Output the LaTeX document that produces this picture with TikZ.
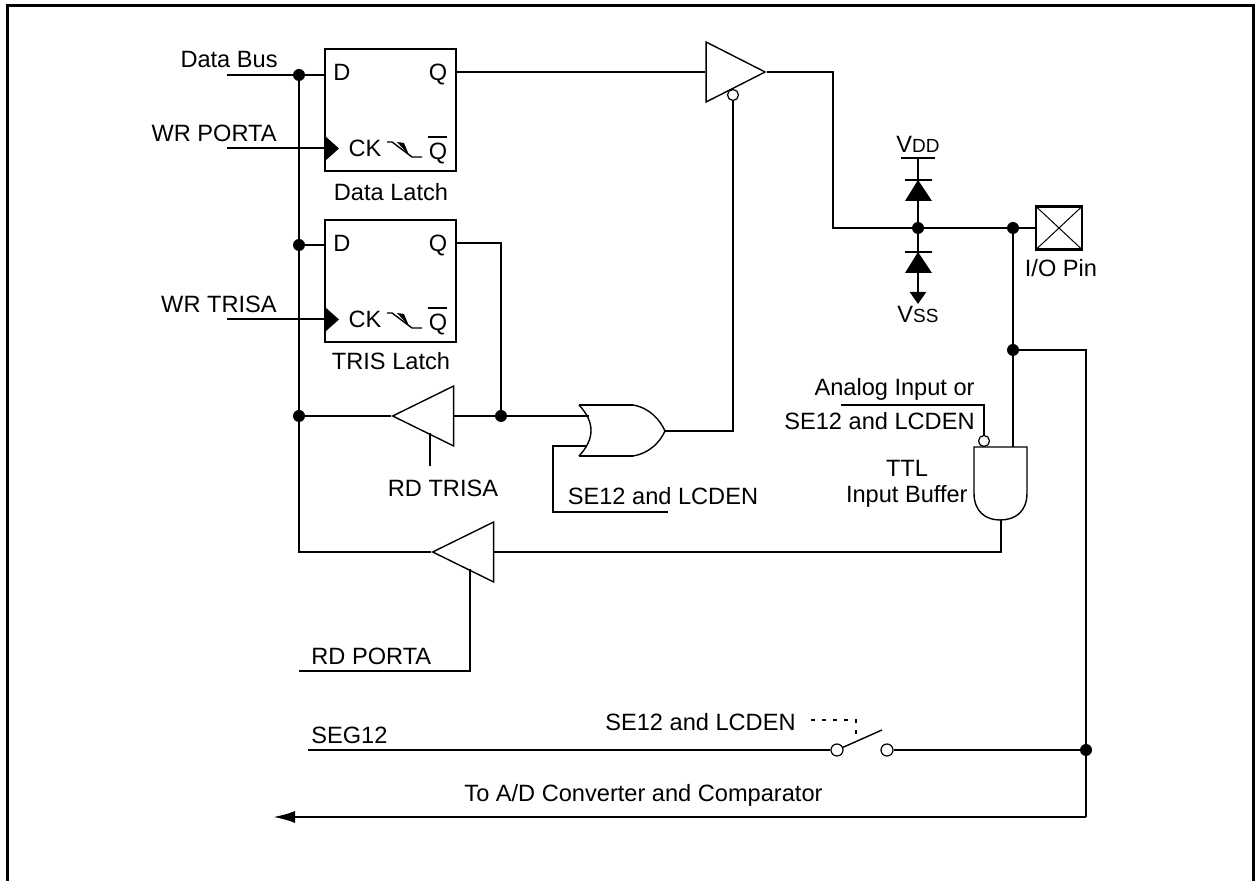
\documentclass[tikz,border=0pt]{standalone}
\usepackage{fontspec}
\setmainfont{Liberation Sans}
\usetikzlibrary{shapes.geometric,arrows.meta}

\begin{document}
\begin{tikzpicture}[x=0.5pt,y=-0.5pt]
    \tikzstyle{wire}=[line width=1.2pt]
    \tikzstyle{thinwire}=[line width=0.7pt]
    \tikzstyle{latch}=[rectangle,draw=black,line width=1.2pt,inner sep=0pt,minimum width=65.5pt,minimum height=61pt]
    \tikzstyle{junct}=[circle,fill=black,inner sep=0pt,minimum size=6pt]
    \tikzstyle{bubble}=[circle,draw=black,fill=white,line width=0.6pt,inner sep=0pt,minimum size=5.5pt]
    \tikzstyle{contact}=[circle,draw=black,fill=white,line width=0.6pt,inner sep=0pt,minimum size=6pt]
    \tikzstyle{buffer}=[isosceles triangle,isosceles triangle stretches,draw=black,line width=0.7pt,inner sep=0pt,minimum width=30pt,minimum height=29.5pt]
    \tikzstyle{label}=[inner sep=0pt,text height=8.4pt,text depth=0pt,font=\fontsize{11.8}{14}\selectfont]

    \useasboundingbox (0,0) rectangle (1255,881);
    \draw[wire] (7.5,881) -- (7.5,5.5) -- (1253.5,5.5) -- (1253.5,881);

    % latches
    \node[latch] (dl) at (390.5,110) {};
    \node[latch] (tl) at (390.5,281) {};
    \node[label] (dlD) at (342,72) {D};
    \node[label] (dlQ) at (438,72) {Q};
    \node[label] (dlCK) at (365,148) {CK};
    \node[label] (dlN) at (438,151) {Q};
    \node[label] (dlname) at (391,192) {Data Latch};
    \node[label] (tlD) at (342,243) {D};
    \node[label] (tlQ) at (438,243) {Q};
    \node[label] (tlCK) at (365,319) {CK};
    \node[label] (tlN) at (438,322) {Q};
    \node[label] (tlname) at (391,361) {TRIS Latch};
    \foreach \y/\n in {0/dl,171/tl}{
        \fill (325,136+\y) -- (339,148.5+\y) -- (325,161+\y) -- cycle;
        \draw[wire] (428,137+\y) -- (447,137+\y);
        \draw[thinwire] (387,142+\y) -- (392,142+\y) -- (412,157+\y) -- (422,157+\y);
        \fill (397,142+\y) -- (409,155+\y) -- (404,143+\y) -- cycle;
    }

    % buffers
    \node[buffer] (bq) at (724.5,72) {};
    \node[buffer,shape border rotate=180,minimum height=30.5pt] (brt) at (435,416) {};
    \node[buffer,shape border rotate=180,minimum height=30.5pt] (brp) at (475,552) {};
    \node[bubble] (bqen) at (733,95) {};

    % gates
    \draw[wire] (579,405) -- (633,405);
    \draw[wire] (579,456) -- (633,456);
    \draw[thinwire] (633,405) .. controls (650,408) and (660,420) .. (665,431) .. controls (660,442) and (650,453) .. (633,456);
    \draw[thinwire] (579,405) .. controls (595,422) and (595,439) .. (579,456);
    \draw[thinwire] (974,447) -- (1027,447) -- (1027,493) .. controls (1027,512) and (1015,520) .. (1000,520) .. controls (986,520) and (974,512) .. (974,493) -- cycle;
    \node[bubble] (anden) at (984,441) {};

    \coordinate (orA) at (589,416);
    \coordinate (orB) at (587,446);
    \coordinate (orO) at (665,431);
    \coordinate (andA) at (1013,447);
    \coordinate (andO) at (1001,520);

    % diodes and pin
    \node[rectangle,draw=black,line width=1.2pt,inner sep=0pt,minimum width=23pt,minimum height=21.5pt,
          path picture={\draw[line width=0.5pt] (path picture bounding box.north west) -- (path picture bounding box.south east)
          (path picture bounding box.north east) -- (path picture bounding box.south west);}] (pin) at (1059,228) {};
    \foreach \y in {180,252}{
        \fill (918,\y) -- (932,\y+21) -- (905,\y+21) -- cycle;
        \draw[wire] (905,\y) -- (932,\y);
    }
    \coordinate (vddbar) at (918,158);
    \coordinate (vssend) at (918,304);
    \draw[wire] (901,158) -- (935,158);
    \node[label] (vdd) at (918,144) {V{\fontsize{9.5}{11}\selectfont DD}};
    \node[label] (vss) at (918,314) {V{\fontsize{9.5}{11}\selectfont SS}};
    \node[label] (pinname) at (1061,268) {I/O Pin};

    % junctions
    \node[junct] (j1) at (299,75) {};
    \node[junct] (j2) at (299,245) {};
    \node[junct] (j3) at (299,416) {};
    \node[junct] (j4) at (501,416) {};
    \node[junct] (j5) at (918,228) {};
    \node[junct] (j6) at (1013,228) {};
    \node[junct] (j7) at (1013,350) {};
    \node[junct] (j8) at (1086,750) {};
    \node[contact] (sa) at (837,750) {};
    \node[contact] (sb) at (887,750) {};

    % free ends
    \coordinate (dbus) at (227,75);
    \coordinate (wrp) at (227,148);
    \coordinate (wrt) at (227,319);
    \coordinate (bend1) at (299,552);
    \coordinate (q1bend) at (833,72);
    \coordinate (q1low) at (833,228);
    \coordinate (q2bend) at (501,243);
    \coordinate (orgo) at (733,431);
    \coordinate (rte) at (430,466);
    \coordinate (rts) at (430,433);
    \coordinate (sed) at (553,446);
    \coordinate (sedl) at (553,512);
    \coordinate (sedr) at (668,512);
    \coordinate (ana) at (984,405);
    \coordinate (anal) at (841,405);
    \coordinate (rgt) at (1086,350);
    \coordinate (rgb) at (1086,817);
    \coordinate (adend) at (273,817);
    \coordinate (andb) at (1001,552);
    \coordinate (rps) at (470,569);
    \coordinate (rpb) at (470,671);
    \coordinate (rpl) at (299,671);
    \coordinate (seg) at (308,750);
    \coordinate (blade) at (882,730);
    \coordinate (blmid) at (856,742);
    \coordinate (dashe) at (856,720);
    \coordinate (dashl) at (811,720);

    % labels
    \node[label,anchor=east] (ldb) at (278,59) {Data Bus};
    \node[label,anchor=east] (lwp) at (277,133) {WR PORTA};
    \node[label,anchor=east] (lwt) at (277,304) {WR TRISA};
    \node[label] (lrt) at (443,488) {RD TRISA};
    \node[label] (lse1) at (663,496) {SE12 and LCDEN};
    \node[label,anchor=east] (lan) at (975,387) {Analog Input or};
    \node[label,anchor=east] (lse2) at (975,421) {SE12 and LCDEN};
    \node[label] (lttl) at (907,468) {TTL};
    \node[label,anchor=east] (lib) at (968,494) {Input Buffer};
    \node[label,anchor=west] (lrp) at (311,656) {RD PORTA};
    \node[label,anchor=west] (lseg) at (311,735) {SEG12};
    \node[label,anchor=east] (lse3) at (796,722) {SE12 and LCDEN};
    \node[label] (lad) at (643.5,793) {To A/D Converter and Comparator};

    % edges
    \draw[wire] (dbus) -- (j1) -- (dl.west |- j1);
    \draw[wire] (wrp) -- (dl.west |- wrp);
    \draw[wire] (wrt) -- (tl.west |- wrt);
    \draw[wire] (j1) -- (j2) -- (j3) -- (bend1) -- (brp.west);
    \draw[wire] (j2) -- (tl.west |- j2);
    \draw[wire] (dl.east |- bq) -- (bq.west);
    \draw[wire] (bq.east) -- (q1bend) -- (q1low) -- (j5) -- (j6) -- (pin.west);
    \draw[wire] (tl.east |- q2bend) -- (q2bend) -- (j4);
    \draw[wire] (j3) -- (brt.west);
    \draw[wire] (brt.east) -- (j4) -- (orA);
    \draw[wire] (rts) -- (rte);
    \draw[wire] (orO) -- (orgo) -- (bqen);
    \draw[wire] (orB) -- (sed) -- (sedl) -- (sedr);
    \draw[wire] (vddbar) -- (j5);
    \draw[wire,-{Triangle[width=8pt,length=6pt]}] (j5) -- (vssend);
    \draw[wire] (j6) -- (j7) -- (andA);
    \draw[wire] (j7) -- (rgt) -- (j8) -- (rgb);
    \draw[wire,-{Latex[width=6pt,length=11pt]}] (rgb) -- (adend);
    \draw[wire] (anden) -- (ana) -- (anal);
    \draw[wire] (andO) -- (andb) -- (brp.east);
    \draw[wire] (rps) -- (rpb) -- (rpl);
    \draw[wire] (seg) -- (sa);
    \draw[wire] (sb) -- (j8);
    \draw[thinwire] (sa) -- (blade);
    \draw[wire,dash pattern=on 2pt off 3.5pt] (dashl) -- (dashe) -- (blmid);

\end{tikzpicture}
\end{document}
